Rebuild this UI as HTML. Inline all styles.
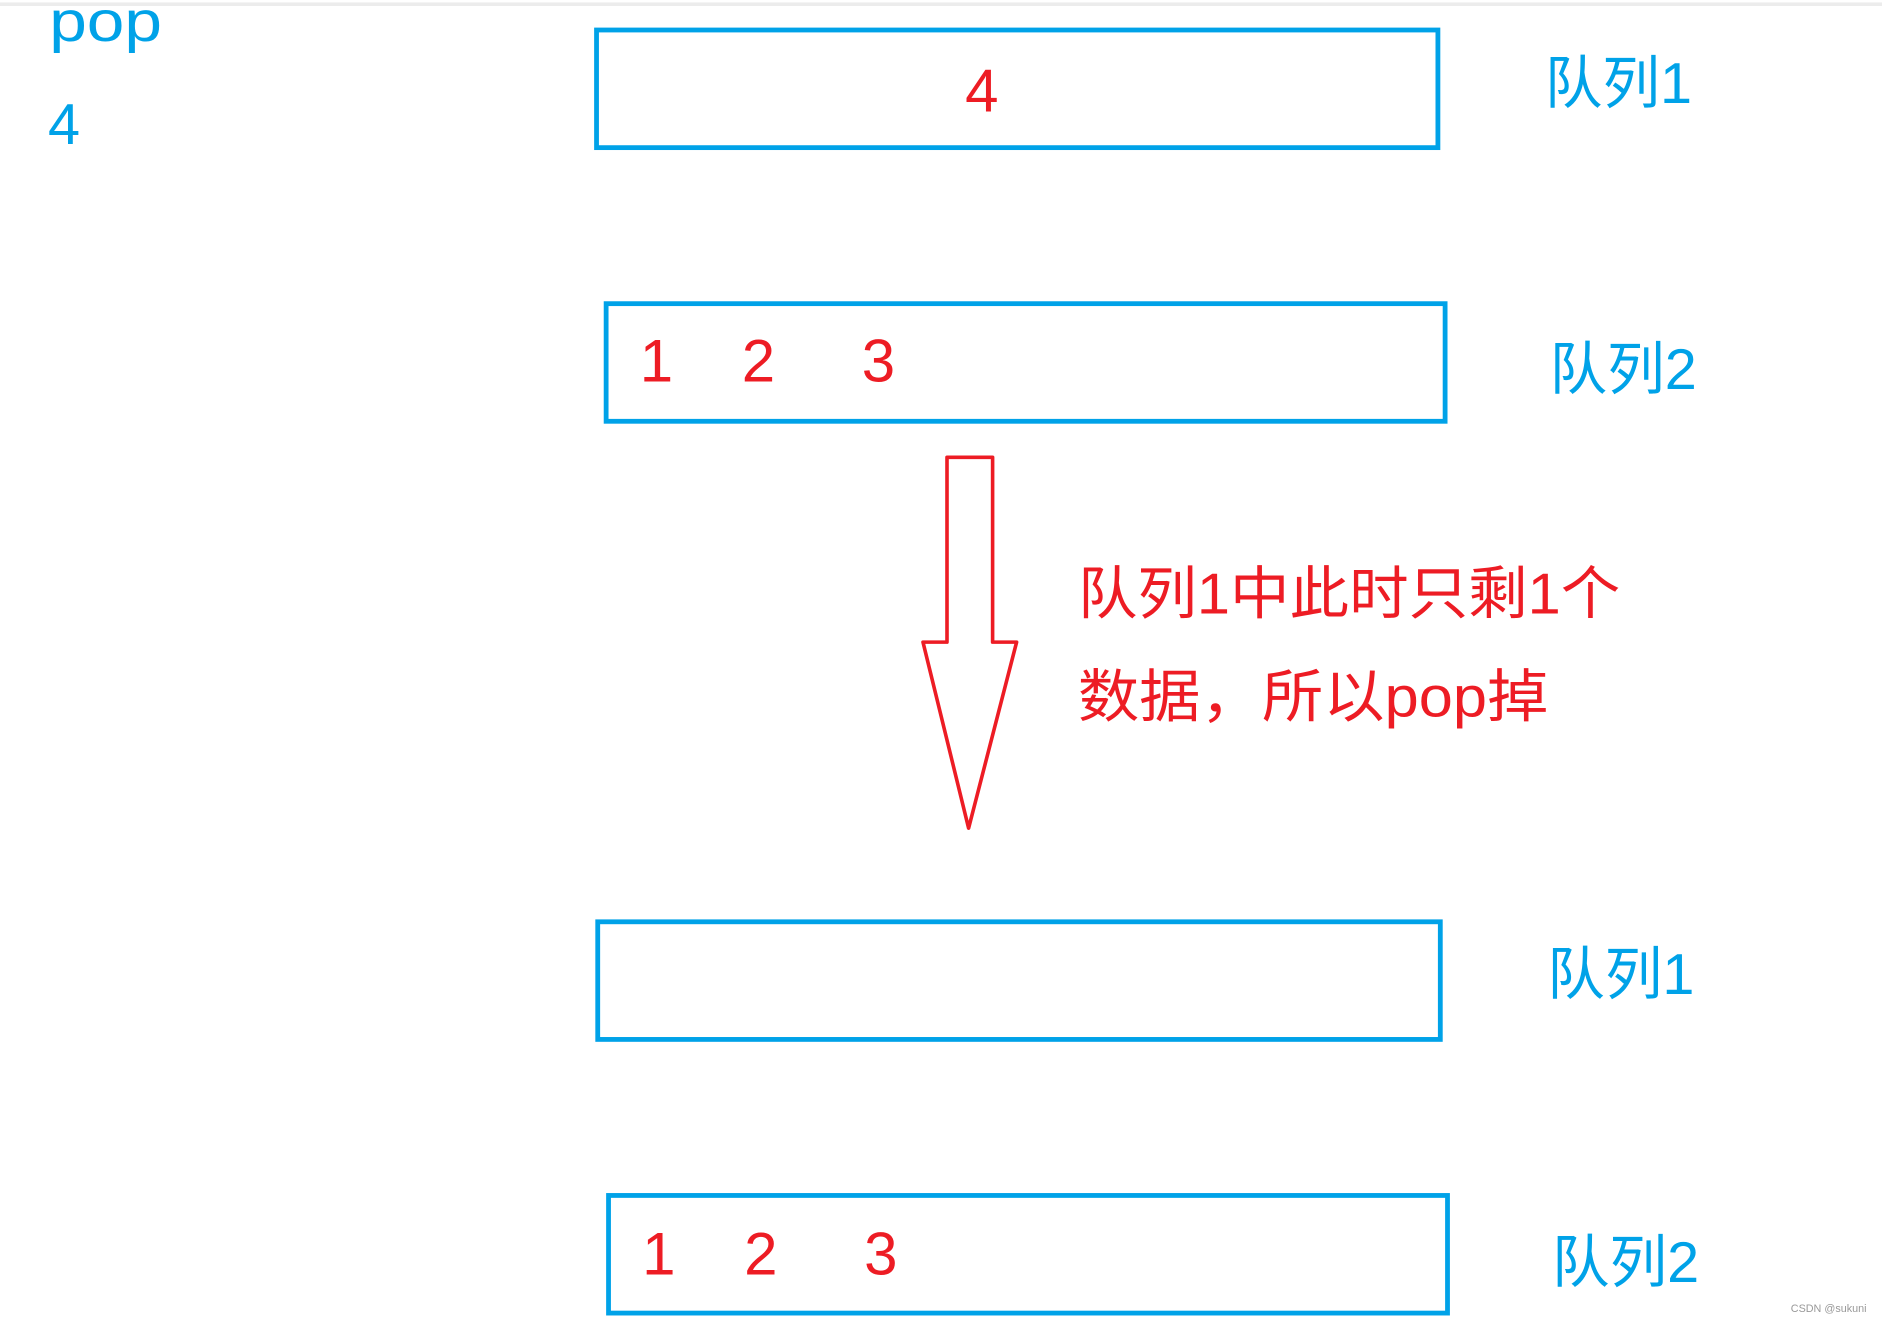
<!DOCTYPE html>
<html><head><meta charset="utf-8"><style>
html,body{margin:0;padding:0;background:#fff;width:1882px;height:1321px;overflow:hidden}
svg text{font-family:"Liberation Sans","Noto Sans CJK SC",sans-serif}
</style></head><body>
<svg width="1882" height="1321" viewBox="0 0 1568 1100.6" xmlns="http://www.w3.org/2000/svg">
<rect x="0" y="0" width="1568" height="1100.6" fill="#fff"/>
<rect x="0" y="2" width="1568" height="3" fill="#ececec"/>
<g fill="#00a2e8" font-size="48">
<text x="41" y="34" textLength="94" lengthAdjust="spacingAndGlyphs">pop</text>
<text x="40" y="120">4</text>
<text x="1287" y="86">队列1</text>
<text x="1291" y="324">队列2</text>
<text x="1289" y="828">队列1</text>
<text x="1293" y="1068">队列2</text>
</g>
<g fill="none" stroke="#00a2e8" stroke-width="4">
<rect x="497" y="25" width="701" height="98"/>
<rect x="505" y="253" width="699" height="98"/>
<rect x="498" y="768" width="702" height="98"/>
<rect x="507" y="996" width="699" height="98"/>
</g>
<g fill="#ed1c24" font-size="50">
<text x="818" y="93" text-anchor="middle">4</text>
<text x="533" y="318">1</text><text x="618" y="318">2</text><text x="718" y="318">3</text>
<text x="535" y="1062">1</text><text x="620" y="1062">2</text><text x="720" y="1062">3</text>
</g>
<g fill="#ed1c24" font-size="48">
<text x="898" y="511" textLength="452" lengthAdjust="spacingAndGlyphs">队列1中此时只剩1个</text>
<text x="898" y="597" textLength="392" lengthAdjust="spacingAndGlyphs">数据，所以pop掉</text>
</g>
<polygon points="789,381 827,381 827,535 847,535 807,690 769,535 789,535" fill="none" stroke="#ed1c24" stroke-width="3" stroke-linejoin="round"/>
<text x="1492" y="1093" font-size="9" fill="#999">CSDN @sukuni</text>
</svg>
</body></html>
